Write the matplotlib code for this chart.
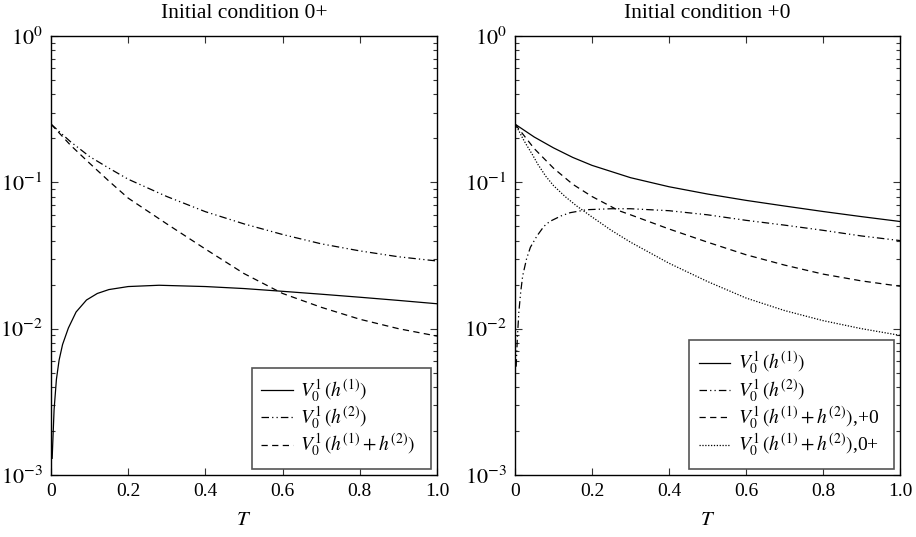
import matplotlib
matplotlib.use("Agg")
import matplotlib.pyplot as plt
from matplotlib.ticker import LogLocator, NullFormatter, FixedLocator
import numpy as np

plt.rcParams['font.family'] = ['Liberation Serif', 'DejaVu Serif']
plt.rcParams['mathtext.fontset'] = 'stix'

# ---- data ----
# Left panel: initial condition 0+
T_L_h1 = [0.003, 0.008, 0.014, 0.021, 0.03, 0.045, 0.065, 0.092, 0.12, 0.15, 0.2, 0.28, 0.4, 0.5, 0.6, 0.7, 0.8, 0.9, 1.0]
V_L_h1 = [0.0013, 0.0028, 0.0045, 0.0061, 0.0078, 0.0101, 0.0130, 0.0157, 0.0174, 0.0185, 0.0194, 0.0198, 0.0194, 0.0188, 0.0180, 0.0172, 0.0164, 0.0156, 0.0148]

T_L_h2 = [0.0, 0.05, 0.1, 0.15, 0.2, 0.3, 0.4, 0.5, 0.6, 0.7, 0.8, 0.9, 1.0]
V_L_h2 = [0.25, 0.19, 0.15, 0.125, 0.105, 0.080, 0.063, 0.052, 0.044, 0.038, 0.034, 0.031, 0.029]

T_L_sum = [0.0, 0.05, 0.1, 0.15, 0.2, 0.3, 0.4, 0.5, 0.6, 0.7, 0.8, 0.9, 1.0]
V_L_sum = [0.25, 0.18, 0.135, 0.102, 0.078, 0.052, 0.035, 0.0238, 0.0174, 0.0140, 0.0116, 0.0100, 0.0089]

# Right panel: initial condition +0
T_R_h1 = [0.0, 0.05, 0.1, 0.15, 0.2, 0.3, 0.4, 0.5, 0.6, 0.7, 0.8, 0.9, 1.0]
V_R_h1 = [0.25, 0.204, 0.172, 0.148, 0.1306, 0.1076, 0.0933, 0.0832, 0.0753, 0.0689, 0.0632, 0.0583, 0.054]

T_R_h2 = [0.003, 0.006, 0.01, 0.015, 0.02, 0.03, 0.04, 0.057, 0.075, 0.09, 0.12, 0.143, 0.186, 0.25, 0.3, 0.4, 0.5, 0.6, 0.7, 0.8, 0.9, 1.0]
V_R_h2 = [0.0055, 0.0085, 0.013, 0.018, 0.023, 0.030, 0.036, 0.043, 0.050, 0.054, 0.059, 0.062, 0.065, 0.066, 0.066, 0.064, 0.060, 0.055, 0.051, 0.047, 0.043, 0.040]

T_R_sum_p0 = [0.0, 0.05, 0.1, 0.15, 0.2, 0.27, 0.3, 0.4, 0.5, 0.6, 0.7, 0.8, 0.9, 1.0]
V_R_sum_p0 = [0.25, 0.17, 0.125, 0.097, 0.080, 0.064, 0.060, 0.048, 0.039, 0.032, 0.0272, 0.0236, 0.0212, 0.0195]

T_R_sum_0p = [0.0, 0.01, 0.02, 0.03, 0.045, 0.06, 0.08, 0.1, 0.13, 0.16, 0.2, 0.25, 0.3, 0.4, 0.5, 0.6, 0.7, 0.8, 0.9, 1.0]
V_R_sum_0p = [0.25, 0.225, 0.20, 0.18, 0.155, 0.132, 0.110, 0.095, 0.080, 0.069, 0.058, 0.047, 0.039, 0.028, 0.021, 0.0162, 0.0133, 0.01135, 0.0100, 0.0090]

x_ticks = [0, 0.2, 0.4, 0.6, 0.8, 1.0]
x_ticklabels = ['0', '0.2', '0.4', '0.6', '0.8', '1.0']
y_ticks = [1e-3, 1e-2, 1e-1, 1e0]
y_ticklabels = [r'$10^{-3}$', r'$10^{-2}$', r'$10^{-1}$', r'$10^{0}$']

titles = ['Initial condition 0+', 'Initial condition +0']
lab_h1 = r'$V_0^1\,(h^{(1)})$'
lab_h2 = r'$V_0^1\,(h^{(2)})$'
lab_sum = r'$V_0^1\,(h^{(1)}+h^{(2)})$'
lab_sum_p0 = r'$V_0^1\,(h^{(1)}+h^{(2)})$,+0'
lab_sum_0p = r'$V_0^1\,(h^{(1)}+h^{(2)})$,0+'

dashdotdot = (0, (6, 2.5, 1, 2.5, 1, 2.5))
dashed = (0, (5, 3.5))
dotted = (0, (1, 1.3))

fig = plt.figure(figsize=(9.16, 5.37), dpi=100)
ax1 = fig.add_axes([51/916, 62/537, 386/916, 439/537])
ax2 = fig.add_axes([515/916, 62/537, 385/916, 439/537])

lw = 0.9
pad = '  '
ax1.plot(T_L_h1, V_L_h1, color='black', lw=lw, ls='-', label=lab_h1 + pad)
ax1.plot(T_L_h2, V_L_h2, color='black', lw=lw, ls=dashdotdot, label=lab_h2 + pad)
ax1.plot(T_L_sum, V_L_sum, color='black', lw=lw, ls=dashed, label=lab_sum + pad)

ax2.plot(T_R_h1, V_R_h1, color='black', lw=lw, ls='-', label=lab_h1 + pad)
ax2.plot(T_R_h2, V_R_h2, color='black', lw=lw, ls=dashdotdot, label=lab_h2 + pad)
ax2.plot(T_R_sum_p0, V_R_sum_p0, color='black', lw=lw, ls=dashed, label=lab_sum_p0 + pad)
ax2.plot(T_R_sum_0p, V_R_sum_0p, color='black', lw=lw, ls=dotted, label=lab_sum_0p + pad)

for ax, title in zip([ax1, ax2], titles):
    ax.set_yscale('log')
    ax.set_xlim(0, 1.0)
    ax.set_ylim(1e-3, 1e0)
    ax.set_xticks(x_ticks)
    ax.set_xticklabels(x_ticklabels)
    ax.yaxis.set_major_locator(FixedLocator(y_ticks))
    ax.set_yticklabels(y_ticklabels, fontsize=16)
    ax.yaxis.set_minor_locator(LogLocator(base=10, subs=np.arange(2, 10)))
    ax.yaxis.set_minor_formatter(NullFormatter())
    ax.tick_params(which='both', direction='in', top=True, right=True, width=0.8, color='#333333')
    ax.tick_params(axis='x', labelsize=14)
    ax.tick_params(which='major', length=5, pad=6)
    ax.tick_params(which='minor', length=3)
    ax.set_xlabel(r'$T$', fontsize=15, labelpad=8)
    ax.set_title(title, fontsize=15.5, pad=13)
    for s in ax.spines.values():
        s.set_linewidth(1.0)
    leg = ax.legend(loc='lower right', fontsize=14, frameon=True, fancybox=False,
                    edgecolor='#555555', framealpha=1, handlelength=1.6,
                    handletextpad=0.4, labelspacing=0.0, borderpad=0.5,
                    borderaxespad=0.3)
    leg.get_frame().set_linewidth(1.2)

fig.savefig('out.png', dpi=100)
